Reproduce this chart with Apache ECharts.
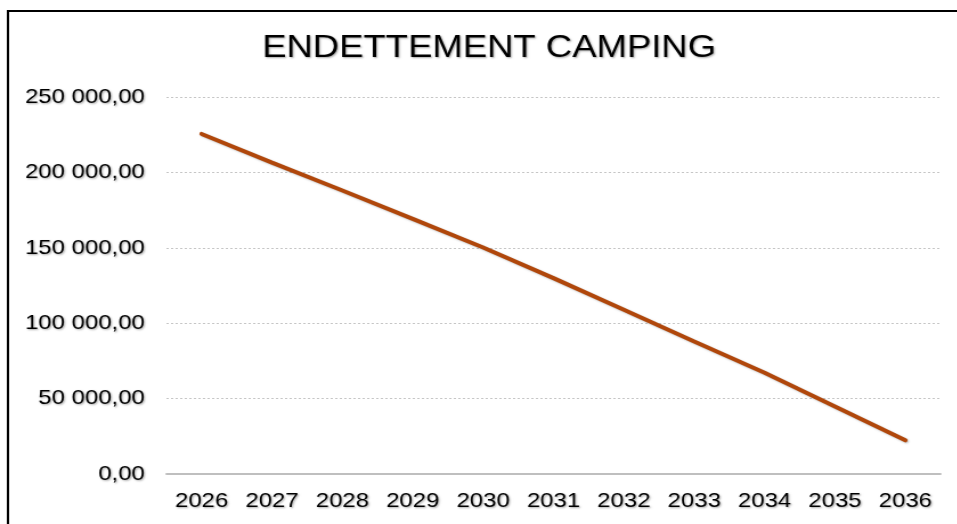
<!DOCTYPE html>
<html>
<head>
<meta charset="utf-8">
<title>Endettement camping</title>
<script src="https://cdn.jsdelivr.net/npm/echarts@6/dist/echarts.min.js"></script>
<style>
  html, body { margin: 0; padding: 0; background: #fff; overflow: hidden; width: 957px; height: 524px; }
  /* le graphique d'origine est legerement etire en largeur */
  #chart { width: 840px; height: 524px; transform: scaleX(1.14); transform-origin: 0 0; }
</style>
</head>
<body>
<div id="chart"></div>
<script>
// annees
var years = ["2026", "2027", "2028", "2029", "2030", "2031", "2032", "2033", "2034", "2035", "2036"];
// capital restant du
var debt = [225500, 206500, 188000, 169200, 150200, 129900, 108900, 87900, 67100, 44800, 22300];
// graduations
var yTicks = [0, 50000, 100000, 150000, 200000, 250000];

// 250000 -> "250 000,00"
function fmt(v) {
  var s = Math.round(v).toString().replace(/\B(?=(\d{3})+(?!\d))/g, " ");
  return s + ",00";
}

var chart = echarts.init(document.getElementById("chart"));
var labelShadow = {
  textShadowColor: "rgba(0,0,0,0.35)",
  textShadowBlur: 2,
  textShadowOffsetX: 1,
  textShadowOffsetY: 1
};

var option = {
  backgroundColor: "#fff",
  animation: false,
  title: {
    text: "ENDETTEMENT CAMPING",
    left: 429,
    top: 32,
    textAlign: "center",
    padding: 0,
    textStyle: Object.assign({
      fontFamily: "Liberation Sans",
      fontSize: 32,
      fontWeight: "normal",
      color: "#000"
    }, labelShadow)
  },
  graphic: [
    {
      type: "rect",
      silent: true,
      shape: { x: 7, y: 11, width: 1000, height: 600 },
      style: { fill: "none", stroke: "#000", lineWidth: 2 }
    }
  ],
  grid: {
    left: 146,
    right: 15,
    top: 97,
    bottom: 50,
    containLabel: false
  },
  xAxis: {
    type: "category",
    boundaryGap: true,
    data: years,
    axisLine: { show: true, lineStyle: { color: "#bfbfbf", width: 2 } },
    axisTick: { show: false },
    axisLabel: Object.assign({
      margin: 17,
      color: "#000",
      fontFamily: "Liberation Sans",
      fontSize: 21
    }, labelShadow),
    splitLine: { show: false }
  },
  yAxis: {
    type: "value",
    min: yTicks[0],
    max: yTicks[yTicks.length - 1],
    interval: yTicks[1] - yTicks[0],
    axisLine: { show: false },
    axisTick: { show: false },
    axisLabel: Object.assign({
      margin: 19,
      color: "#000",
      fontFamily: "Liberation Sans",
      fontSize: 21,
      formatter: fmt
    }, labelShadow),
    splitLine: {
      show: true,
      lineStyle: { color: "#c6c6c6", type: [2, 2], width: 1 }
    }
  },
  series: [
    {
      name: "Endettement",
      type: "line",
      data: debt,
      showSymbol: false,
      symbol: "none",
      lineStyle: {
        color: "#b0470b",
        width: 4,
        cap: "round",
        shadowColor: "rgba(0,0,0,0.25)",
        shadowBlur: 2,
        shadowOffsetX: 1,
        shadowOffsetY: 1
      }
    }
  ]
};
chart.setOption(option);
</script>
</body>
</html>
